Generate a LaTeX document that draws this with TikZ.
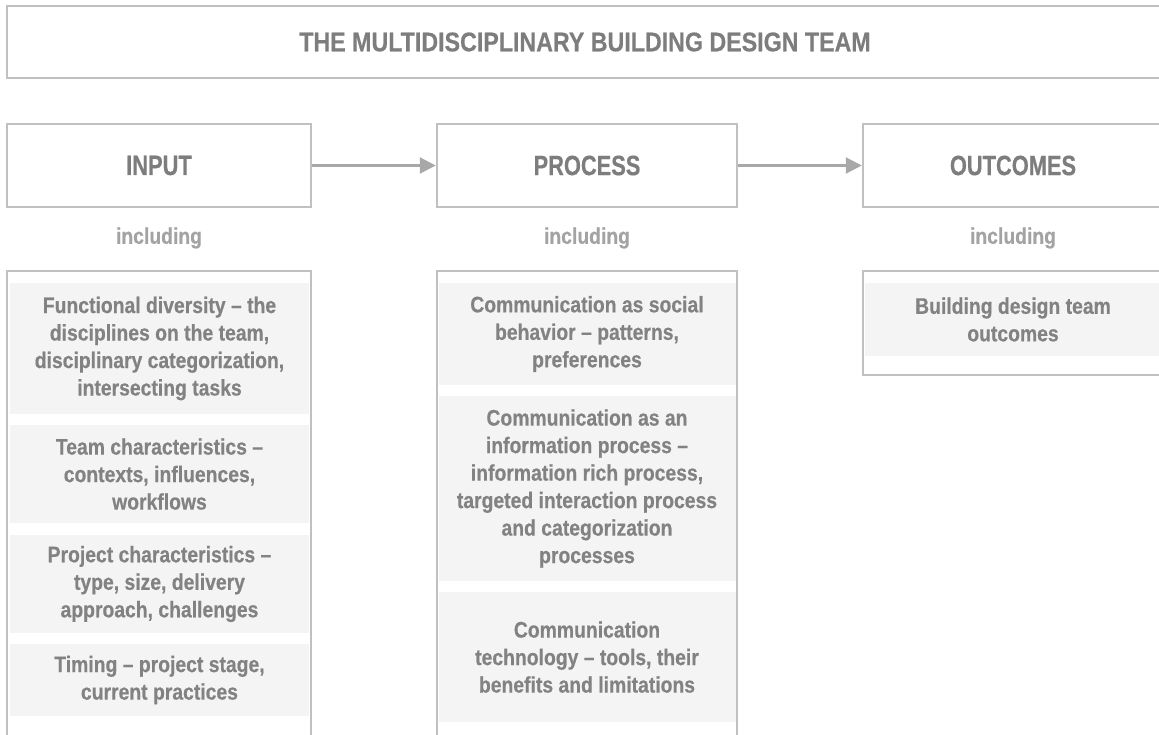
\documentclass[tikz,border=0pt]{standalone}
\usepackage{fontspec}
\newfontfamily\boxfont{Liberation Sans Bold}[Ligatures=TeX,FakeStretch=0.86,FakeBold=0.4]
\newfontfamily\headfont{Liberation Sans Bold}[Ligatures=TeX,FakeStretch=0.78,FakeBold=0.4]
\usetikzlibrary{arrows.meta}
\definecolor{frame}{HTML}{C0C0C0}
\definecolor{headtext}{HTML}{7D7D7D}
\definecolor{itemtext}{HTML}{828282}
\definecolor{inctext}{HTML}{A3A3A3}
\definecolor{itemfill}{HTML}{F4F4F4}
\definecolor{arrowgray}{HTML}{A8A8A8}
\begin{document}
\begin{tikzpicture}[x=1pt,y=-1pt,
    box/.style={draw=frame,line width=2.5pt,minimum height=83pt,inner sep=0pt,
      text=headtext,font=\headfont\fontsize{28}{30}\selectfont},
    incl/.style={text=inctext,font=\boxfont\fontsize{22.5}{26}\selectfont},
    item/.style={fill=itemfill,inner sep=0pt,align=center,text=itemtext,
      font=\boxfont\fontsize{22.5}{27.5}\selectfont},
    link/.style={draw=arrowgray,line width=2.2pt,-{Triangle[length=16pt,width=16pt]}}]
  \useasboundingbox (0,0) rectangle (1159,734);
  \node[box,minimum width=1156pt,minimum height=72pt,font=\boxfont\fontsize{27}{30}\selectfont]
    (title) at (585,42) {THE MULTIDISCIPLINARY BUILDING DESIGN TEAM};
  \node[box,minimum width=304pt] (input) at (159,165.5) {INPUT};
  \node[box,minimum width=300pt] (process) at (587,165.5) {PROCESS};
  \node[box,minimum width=300pt] (outcomes) at (1013,165.5) {OUTCOMES};
  \draw[link] (input) -- (process);
  \draw[link] (process) -- (outcomes);
  \node[incl] (incin) at (159,238) {including};
  \node[incl] (incpr) at (587,238) {including};
  \node[incl] (incout) at (1013,238) {including};
  \draw[frame,line width=2.5pt] (7,271) rectangle (311,750);
  \draw[frame,line width=2.5pt] (437,271) rectangle (737,750);
  \draw[frame,line width=2.5pt] (863,271) rectangle (1163,375);
  \node[item,minimum width=299pt,minimum height=131pt] (in1) at (159.5,348.5)
    {Functional diversity -- the\\disciplines on the team,\\disciplinary categorization,\\intersecting tasks};
  \node[item,minimum width=299pt,minimum height=98pt] (in2) at (159.5,474)
    {Team characteristics --\\contexts, influences,\\workflows};
  \node[item,minimum width=299pt,minimum height=98pt] (in3) at (159.5,584)
    {Project characteristics --\\type, size, delivery\\approach, challenges};
  \node[item,minimum width=299pt,minimum height=72pt] (in4) at (159.5,680)
    {Timing -- project stage,\\current practices};
  \node[item,minimum width=297pt,minimum height=102pt] (pr1) at (587,334)
    {Communication as social\\behavior -- patterns,\\preferences};
  \node[item,minimum width=297pt,minimum height=185pt] (pr2) at (587,488.5)
    {Communication as an\\information process --\\information rich process,\\targeted interaction process\\and categorization\\processes};
  \node[item,minimum width=297pt,minimum height=130pt] (pr3) at (587,657)
    {Communication\\technology -- tools, their\\benefits and limitations};
  \node[item,minimum width=297pt,minimum height=73pt] (out1) at (1013,319.5)
    {Building design team\\outcomes};
\end{tikzpicture}
\end{document}
